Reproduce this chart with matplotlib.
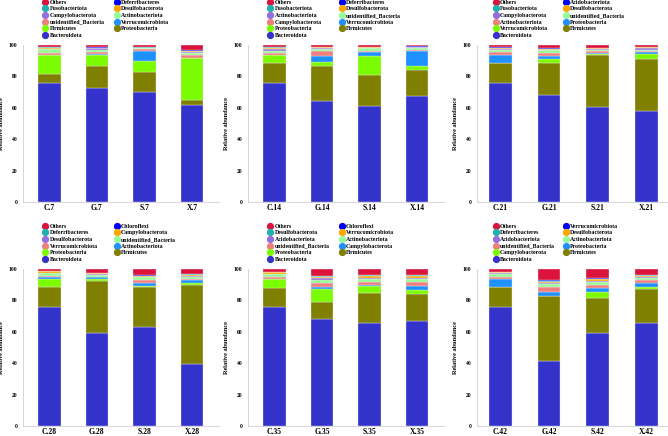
import numpy as np
import matplotlib.pyplot as plt
from matplotlib.lines import Line2D

plt.rcParams['font.family'] = ['Liberation Serif', 'DejaVu Serif']
plt.rcParams['font.weight'] = 'bold'

# ---------------- DATA ----------------
# colours by stack position, bottom -> top
COLORS = ['#3333CC', '#808000', '#7CFC00', '#1E90FF', '#F08080', '#98FB98',
          '#9370DB', '#FFA500', '#20B2AA', '#0000FF', '#DC143C']

# taxa are listed bottom -> top of each stack; rows of abund_* are samples
taxa_7 = ['Bacteroidota', 'Proteobacteria', 'Firmicutes', 'Verrucomicrobiota',
          'unidentified_Bacteria', 'Actinobacteriota', 'Campylobacterota',
          'Desulfobacterota', 'Fusobacteriota', 'Deferribacteres', 'Others']
samples_7 = ['C.7', 'G.7', 'S.7', 'X.7']
abund_7 = [[76.0, 5.3, 12.1, 0.4, 1.2, 2.2, 0.4, 0.7, 0.2, 0.1, 1.4],
           [72.4, 14.0, 7.4, 0.5, 1.5, 1.2, 0.8, 0.3, 0.3, 0.1, 1.5],
           [70.3, 12.7, 6.6, 6.6, 1.0, 0.6, 0.3, 0.3, 0.2, 0.1, 1.3],
           [61.8, 3.0, 26.9, 0.3, 1.8, 1.2, 0.5, 0.5, 0.3, 0.2, 3.5]]

taxa_14 = ['Bacteroidota', 'Firmicutes', 'Proteobacteria', 'Verrucomicrobiota',
           'Campylobacterota', 'unidentified_Bacteria', 'Actinobacteriota',
           'Desulfobacterota', 'Fusobacteriota', 'Deferribacteres', 'Others']
samples_14 = ['C.14', 'G.14', 'S.14', 'X.14']
abund_14 = [[76.0, 12.3, 5.1, 0.4, 0.8, 1.8, 1.2, 0.8, 0.2, 0.1, 1.3],
            [64.5, 22.1, 2.6, 4.0, 3.0, 1.3, 0.8, 0.3, 0.2, 0.1, 1.1],
            [61.1, 19.6, 12.3, 2.7, 0.3, 2.2, 0.2, 0.2, 0.1, 0.1, 1.2],
            [67.7, 16.6, 2.3, 9.8, 0.4, 1.6, 0.3, 0.2, 0.1, 0.1, 0.9]]

taxa_21 = ['Bacteroidota', 'Firmicutes', 'Verrucomicrobiota', 'Proteobacteria',
           'Actinobacteriota', 'unidentified_Bacteria', 'Campylobacterota',
           'Desulfobacterota', 'Fusobacteriota', 'Acidobacteriota', 'Others']
samples_21 = ['C.21', 'G.21', 'S.21', 'X.21']
abund_21 = [[76.0, 12.3, 0.3, 5.0, 1.7, 1.5, 0.6, 0.8, 0.2, 0.1, 1.5],
            [68.0, 20.3, 2.8, 1.9, 2.1, 1.6, 0.4, 0.4, 0.2, 0.1, 2.2],
            [60.7, 33.1, 0.4, 1.0, 0.8, 1.0, 0.3, 0.8, 0.2, 0.1, 1.6],
            [58.2, 32.9, 2.9, 1.5, 0.9, 0.6, 1.0, 0.5, 0.2, 0.1, 1.2]]

taxa_28 = ['Bacteroidota', 'Firmicutes', 'Proteobacteria', 'Actinobacteriota',
           'Verrucomicrobiota', 'unidentified_Bacteria', 'Desulfobacterota',
           'Campylobacterota', 'Deferribacteres', 'Chloroflexi', 'Others']
samples_28 = ['C.28', 'G.28', 'S.28', 'X.28']
abund_28 = [[76.0, 12.3, 5.3, 1.4, 0.6, 1.6, 0.5, 0.8, 0.2, 0.1, 1.2],
            [59.0, 33.6, 1.2, 0.8, 0.4, 1.2, 0.3, 0.9, 0.2, 0.1, 2.3],
            [62.8, 25.9, 0.6, 1.5, 2.0, 1.8, 0.3, 0.6, 0.3, 0.1, 4.1],
            [39.5, 50.1, 1.2, 1.9, 0.8, 1.3, 0.8, 0.7, 0.3, 0.2, 3.2]]

taxa_35 = ['Bacteroidota', 'Firmicutes', 'Proteobacteria', 'Campylobacterota',
           'unidentified_Bacteria', 'Actinobacteriota', 'Acidobacteriota',
           'Verrucomicrobiota', 'Desulfobacterota', 'Chloroflexi', 'Others']
samples_35 = ['C.35', 'G.35', 'S.35', 'X.35']
abund_35 = [[75.6, 12.3, 5.5, 0.4, 1.2, 1.6, 0.5, 0.8, 0.4, 0.1, 1.6],
            [68.2, 11.0, 8.1, 1.5, 2.3, 2.0, 1.2, 0.8, 0.5, 0.2, 4.2],
            [65.8, 18.9, 4.3, 1.0, 1.8, 1.7, 0.8, 1.1, 0.5, 0.3, 3.8],
            [66.7, 17.2, 2.5, 2.6, 2.8, 1.6, 1.0, 1.0, 0.6, 0.3, 3.7]]

taxa_42 = ['Bacteroidota', 'Firmicutes', 'Campylobacterota', 'Proteobacteria',
           'unidentified_Bacteria', 'Actinobacteriota', 'Acidobacteriota',
           'Desulfobacterota', 'Deferribacteres', 'Verrucomicrobiota', 'Others']
samples_42 = ['C.42', 'G.42', 'S.42', 'X.42']
abund_42 = [[76.0, 12.3, 0.5, 5.0, 1.3, 1.6, 0.6, 0.8, 0.2, 0.1, 1.6],
            [41.6, 41.0, 0.5, 2.5, 2.8, 2.0, 0.9, 0.4, 0.9, 0.2, 7.2],
            [59.4, 22.1, 3.6, 2.5, 2.5, 1.5, 0.9, 1.0, 0.3, 0.2, 6.0],
            [65.4, 21.6, 1.5, 2.5, 1.9, 1.4, 0.8, 0.6, 0.3, 0.4, 3.6]]

# ---------------- LAYOUT (pixels) ----------------
W, H = 668, 436
# (left px, width px, x-limits)
COLS = [(22.7, 196, (-0.56, 3.56)),
        (247.7, 196, (-0.56, 3.56)),
        (476.7, 192, (-0.48, 3.45))]
ROWS = [45, 269]  # y pixel of the 100 line
AX_H = 157


def draw_panel(fig, ax, taxa, samples, abund, leg_off, col_gap):
    data = np.array(abund).T
    x = np.arange(len(samples))
    bottom = np.zeros(len(samples))
    handles = []
    for i, name in enumerate(taxa):
        ax.bar(x, data[i], 0.47, bottom=bottom, color=COLORS[i],
               edgecolor='#f2f2f2', linewidth=0.25)
        bottom += data[i]
        handles.append(Line2D([], [], ls='none', marker='o', ms=4.2,
                              color=COLORS[i], label=name))
    ax.set_ylim(0, 100)
    ax.set_yticks([0, 20, 40, 60, 80, 100])
    ax.set_xticks(x)
    ax.set_xticklabels(samples, fontsize=5.5, fontweight='bold')
    ax.tick_params(axis='y', labelsize=4, length=0, pad=4)
    ax.tick_params(axis='x', length=0, pad=1.5)
    for s in ['top', 'right']:
        ax.spines[s].set_visible(False)
    for s in ['left', 'bottom']:
        ax.spines[s].set_color('#cfcfcf')
        ax.spines[s].set_linewidth(0.6)
    ax.set_ylabel('Relative abundance', fontsize=4.5, fontweight='bold')

    # legend, listed top -> bottom, two fixed columns
    rev = handles[::-1]
    bb = ax.get_position()
    for k, part in enumerate([rev[0::2], rev[1::2]]):
        lx = bb.x0 + (leg_off + k * col_gap) / W
        fig.legend(handles=part, loc='upper left', frameon=False,
                   bbox_to_anchor=(lx, bb.y1 + 45.2 / H),
                   bbox_transform=fig.transFigure,
                   fontsize=4.2, handlelength=0.8, handletextpad=0.4,
                   labelspacing=0.26, borderpad=0, borderaxespad=0)


fig = plt.figure(figsize=(W / 100, H / 100), dpi=100)

panels = [(taxa_7, samples_7, abund_7), (taxa_14, samples_14, abund_14),
          (taxa_21, samples_21, abund_21), (taxa_28, samples_28, abund_28),
          (taxa_35, samples_35, abund_35), (taxa_42, samples_42, abund_42)]

for n, (taxa, samples, abund) in enumerate(panels):
    r, c = divmod(n, 3)
    left, width, xl = COLS[c]
    top = ROWS[r]
    ax = fig.add_axes([left / W, 1 - (top + AX_H) / H, width / W, AX_H / H])
    ax.set_xlim(*xl)
    off = 19.8 if c < 2 else 16.5
    gap = 71.7 if c < 2 else 70
    draw_panel(fig, ax, taxa, samples, abund, off, gap)
    ax.yaxis.set_label_coords(-19 / width, 0.5)

fig.savefig('out.png', dpi=100)
